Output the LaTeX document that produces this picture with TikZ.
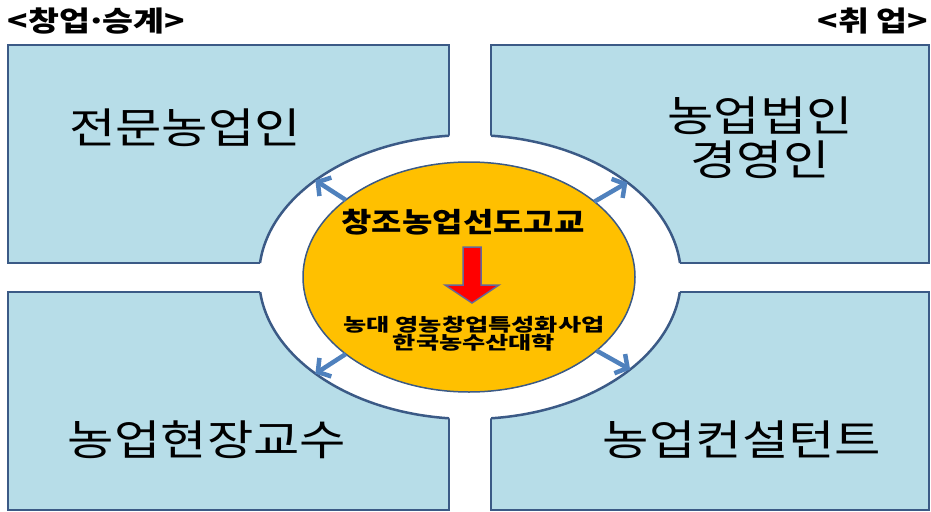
\documentclass[tikz,border=0pt]{standalone}
\usepackage{fontspec}
\newfontfamily\kfont[FakeStretch=1.2]{Noto Sans CJK KR}
\newfontfamily\kwide[FakeStretch=1.4]{Noto Sans CJK KR}
\usetikzlibrary{shapes.geometric}
\usetikzlibrary{arrows.meta}
\definecolor{boxblue}{RGB}{183,221,232}
\definecolor{edgeblue}{RGB}{59,90,134}
\definecolor{spokeblue}{RGB}{79,129,189}
\definecolor{coreorange}{RGB}{255,192,0}

\begin{document}
\begin{tikzpicture}[x=1pt,y=-1pt]
		\tikzstyle{every node}+=[inner sep=0pt, outer sep=0pt]
		\tikzstyle{field}=[fill=boxblue, draw=edgeblue, line width=2.5pt]
		\tikzstyle{spoke}=[spokeblue, line width=4.5pt, -{Straight Barb[length=9pt,width=22pt,line width=4.5pt]}]
		\tikzstyle{fieldtext}=[font=\kfont\fontsize{42}{44}\selectfont, align=center]
		\tikzstyle{headtext}=[font=\kfont\bfseries\fontsize{28}{30}\selectfont]
		\useasboundingbox (0,0) rectangle (931,511);
		\begin{scope}[even odd rule]
		\clip (0,0) rectangle (931,511) (470,277) ellipse [x radius=211, y radius=142];
		\draw [field] (8,45) rectangle (449,263);
		\draw [field] (491,45) rectangle (929,263);
		\draw [field] (8,292) rectangle (449,510);
		\draw [field] (491,292) rectangle (929,510);
		\end{scope}
		\begin{scope}
		\clip (8,45) rectangle (449,263) (491,45) rectangle (929,263) (8,292) rectangle (449,510) (491,292) rectangle (929,510);
		\draw [edgeblue, line width=2.5pt] (470,277) ellipse [x radius=211, y radius=142];
		\end{scope}
		\node [ellipse, minimum width=422, minimum height=284] (ring) at (470,277) {};
		\node [ellipse, fill=coreorange, draw=edgeblue, line width=1.5pt, minimum width=332, minimum height=230] (core) at (469,277) {};
		\draw [spoke] (core.148) -- (ring.148);
		\draw [spoke] (core.31) -- (ring.31);
		\draw [spoke] (core.212) -- (ring.212);
		\draw [spoke] (core.330) -- (ring.330);
		\filldraw [fill=red, draw=gray!80!blue, line width=1.5pt] (463,247) -- (481,247) -- (481,285) -- (499,285) -- (472,303) -- (445,285) -- (463,285) -- cycle;
		\node [font=\kfont\bfseries\fontsize{27.5}{30}\selectfont] (school) at (463,222) {창조농업선도고교};
		\node [font=\kwide\bfseries\fontsize{18}{18}\selectfont, align=center] (source) at (474,334) {농대 영농창업특성화사업\\한국농수산대학};
		\node [fieldtext] (farmer) at (185,128) {전문농업인};
		\node [fieldtext] (corpman) at (760,138) {농업법인\\경영인};
		\node [fieldtext] (fieldprof) at (207,440) {농업현장교수};
		\node [fieldtext] (consult) at (742,440) {농업컨설턴트};
		\node [headtext, anchor=west] (starthead) at (8,21) {<창업\hspace{-0.15em}·\hspace{-0.15em}승계>};
		\node [headtext, anchor=east] (jobhead) at (928,21) {<취 업>};
\end{tikzpicture}
\end{document}
